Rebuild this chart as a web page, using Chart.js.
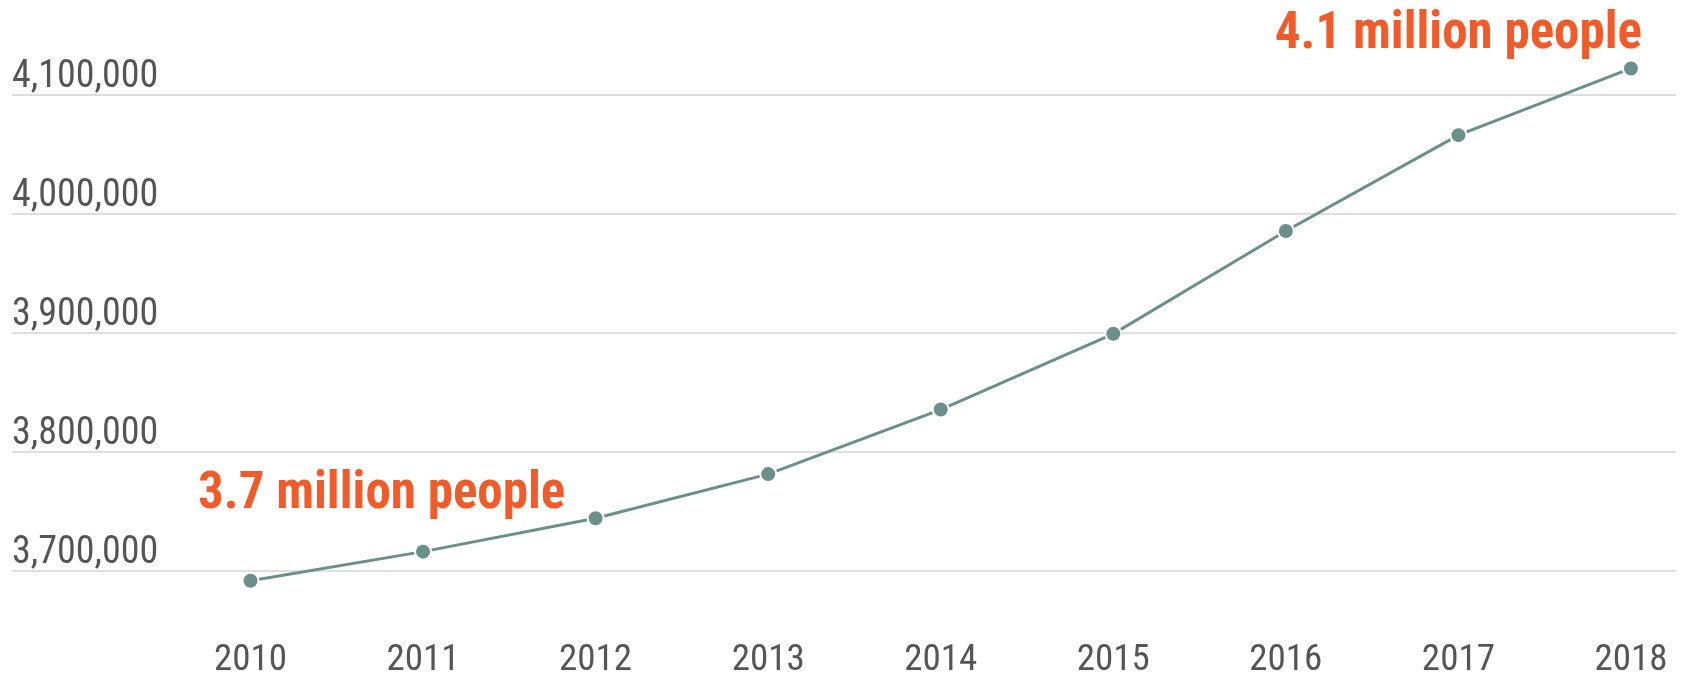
<!DOCTYPE html>
<html>
<head>
<meta charset="utf-8">
<script src="https://cdn.jsdelivr.net/npm/chart.js@4.4.1/dist/chart.umd.min.js"></script>
<style>
  html, body { margin: 0; padding: 0; background: #fff; }
  #wrap { width: 1686px; height: 680px; }
</style>
</head>
<body>
<div id="wrap"><canvas id="pop-chart"></canvas></div>
<script>
const years = [2010, 2011, 2012, 2013, 2014, 2015, 2016, 2017, 2018];
const population = [3691800, 3716300, 3744400, 3781500, 3835800, 3899500, 3986000, 4066600, 4122700];
const yTicks = [3700000, 3800000, 3900000, 4000000, 4100000];
const callouts = ['3.7 million people', '4.1 million people'];

const FONT = "'Roboto Condensed', 'Liberation Sans Narrow', 'DejaVu Sans Condensed', sans-serif";
const LINE = '#6b8f8b';
const ORANGE = '#f15a29';

// orange notes above the first and last years
const calloutPlugin = {
  id: 'callouts',
  afterDatasetsDraw(chart) {
    const { ctx, scales: { x } } = chart;
    ctx.save();
    ctx.font = `bold 51px ${FONT}`;
    ctx.fillStyle = ORANGE;
    ctx.textAlign = 'center';
    ctx.textBaseline = 'alphabetic';
    ctx.fillText(callouts[0], x.getPixelForValue(2010.76), 508);
    ctx.fillText(callouts[1], x.getPixelForValue(2017), 48);
    ctx.restore();
  },
};

const ctx = document.getElementById('pop-chart').getContext('2d');

new Chart(ctx, {
  type: 'line',
  data: {
    datasets: [{
      data: years.map((yr, i) => ({ x: yr, y: population[i] })),
      borderColor: LINE,
      borderWidth: 3,
      backgroundColor: LINE,
      pointBackgroundColor: LINE,
      pointBorderColor: '#fff',
      pointBorderWidth: 2,
      pointRadius: 8,
      tension: 0,
      clip: false,
    }],
  },
  options: {
    responsive: true,
    maintainAspectRatio: false,
    animation: false,
    layout: {
      padding: { left: 12, top: 36, right: 0, bottom: 0 },
    },
    scales: {
      x: {
        type: 'linear',
        min: 2008.618,
        max: 2018.261,
        afterBuildTicks: (axis) => { axis.ticks = years.map((v) => ({ value: v })); },
        grid: { display: false, drawTicks: false },
        border: { display: false },
        ticks: {
          autoSkip: false,
          maxRotation: 0,
          padding: 0,
          color: '#555',
          font: { family: FONT, size: 37, lineHeight: 1.05 },
          callback: (v) => String(v),
        },
      },
      y: {
        min: 3641000,
        max: 4150000,
        afterBuildTicks: (axis) => { axis.ticks = yTicks.map((v) => ({ value: v })); },
        grid: { color: '#dedede', lineWidth: 2, drawTicks: false },
        border: { display: false },
        ticks: {
          mirror: true,
          padding: 0,
          labelOffset: -18,
          color: '#555',
          font: { family: FONT, size: 38 },
          callback: (v) => v.toLocaleString('en-US'),
        },
      },
    },
    plugins: {
      legend: { display: false },
      tooltip: { enabled: false },
    },
  },
  plugins: [calloutPlugin],
});
</script>
</body>
</html>
